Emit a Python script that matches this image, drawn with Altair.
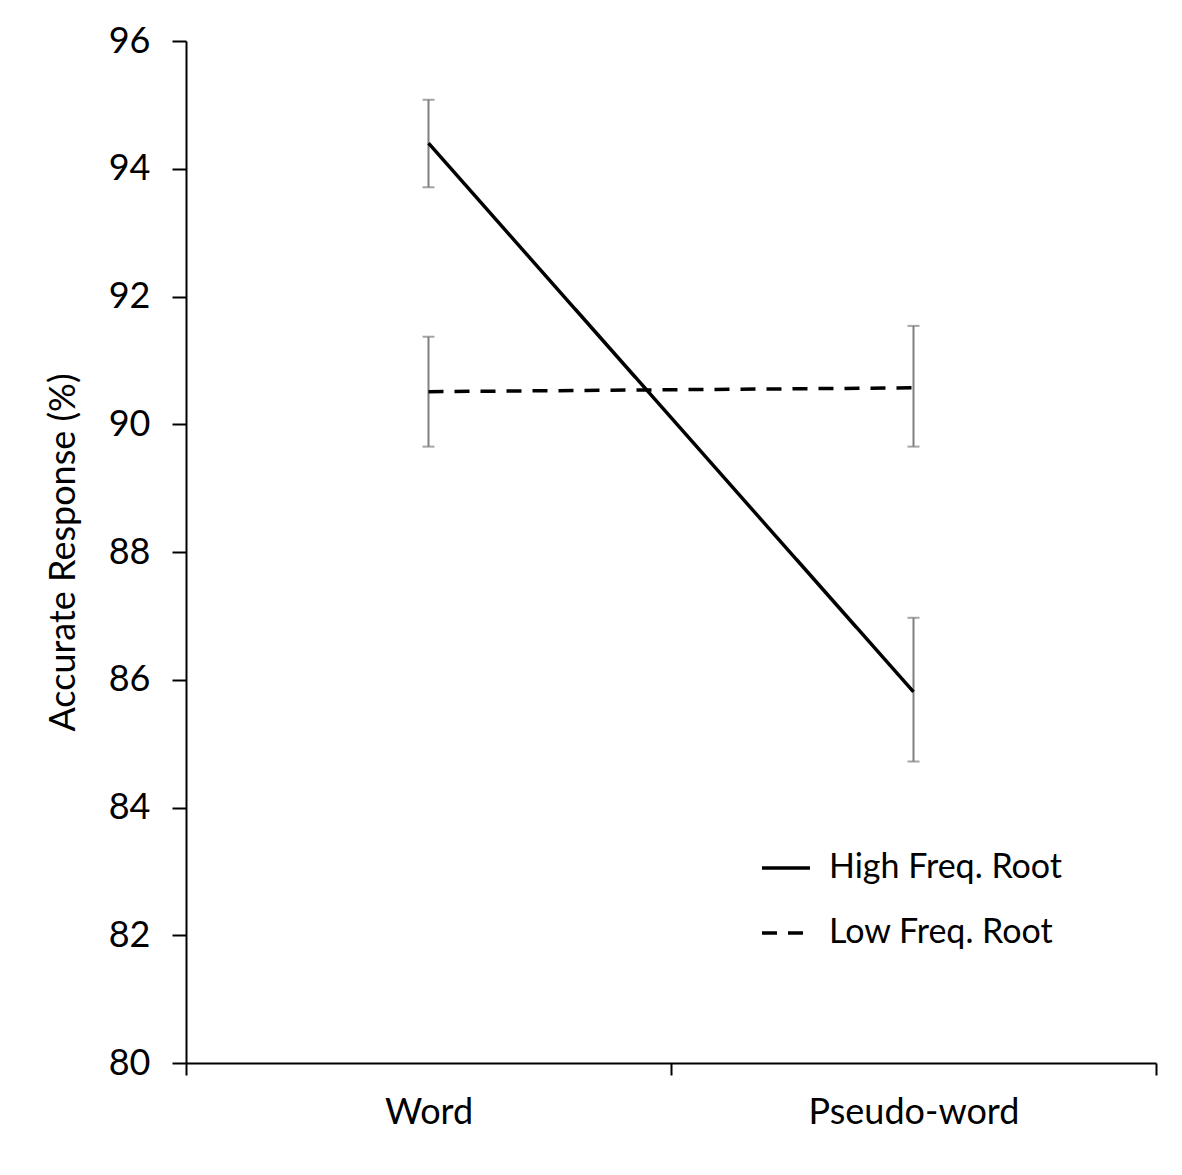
import altair as alt
import pandas as pd

categories = ["Word", "Pseudo-word"]
series = ["High Freq. Root", "Low Freq. Root"]
high_mean = [94.40, 85.81]
high_lo = [93.71, 84.72]
high_hi = [95.08, 86.97]
low_mean = [90.51, 90.57]
low_lo = [89.65, 89.65]
low_hi = [91.37, 91.54]

rows = []
for i, c in enumerate(categories):
    rows.append({"cat": c, "series": series[0], "mean": high_mean[i], "lo": high_lo[i], "hi": high_hi[i]})
    rows.append({"cat": c, "series": series[1], "mean": low_mean[i], "lo": low_lo[i], "hi": low_hi[i]})
df = pd.DataFrame(rows)

FONT = "Lato"
FS = 36

x = alt.X("cat:N", sort=categories, title=None,
          scale=alt.Scale(paddingInner=0, paddingOuter=0),
          axis=alt.Axis(labelAngle=0, tickBand="extent", tickSize=12, tickWidth=2,
                        tickColor="black", domainColor="black", domainWidth=2,
                        labelFontSize=FS, labelFont=FONT, labelColor="black",
                        labelPadding=20, labelLimit=600))
y_scale = alt.Scale(domain=[80, 96], nice=False, zero=False)
y_axis = alt.Axis(values=list(range(80, 97, 2)), format="d", tickSize=14, tickWidth=2,
                  tickColor="black", domainColor="black", domainWidth=2, grid=False,
                  labelFontSize=FS, labelFont=FONT, labelColor="black", labelPadding=22,
                  title="Accurate Response (%)", titleFontSize=FS, titleFont=FONT,
                  titleFontWeight="normal", titleColor="black", titlePadding=26)

base = alt.Chart(df)

err = base.mark_rule(color="#7f7f7f", strokeWidth=2).encode(
    x=x,
    y=alt.Y("lo:Q", scale=y_scale, axis=y_axis),
    y2="hi:Q",
)
caps_hi = base.mark_tick(color="#7f7f7f", thickness=2, size=12, orient="horizontal").encode(
    x=x, y=alt.Y("hi:Q", scale=y_scale))
caps_lo = base.mark_tick(color="#7f7f7f", thickness=2, size=12, orient="horizontal").encode(
    x=x, y=alt.Y("lo:Q", scale=y_scale))

lines = base.mark_line(color="black", strokeWidth=3.5).encode(
    x=x,
    y=alt.Y("mean:Q", scale=y_scale),
    strokeDash=alt.StrokeDash("series:N",
        scale=alt.Scale(domain=series, range=[[1, 0], [15, 11]]),
        legend=alt.Legend(orient="none", legendX=574, legendY=801, title=None,
                          symbolType="stroke", symbolSize=2304, symbolStrokeWidth=3.5,
                          symbolStrokeColor="black", labelFontSize=34, labelFont=FONT,
                          labelColor="black", labelOffset=17, rowPadding=22, padding=0,
                          labelLimit=500)),
    detail="series:N",
)

chart = alt.layer(err, caps_hi, caps_lo, lines).properties(
    width=970, height=1022,
    autosize=alt.AutoSizeParams(type="none"),
    padding={"left": 178, "top": 33, "right": 10, "bottom": 90},
    background="white",
).configure_view(stroke=None)

chart.save("out.html", embed_options={"renderer": "svg", "actions": False})
